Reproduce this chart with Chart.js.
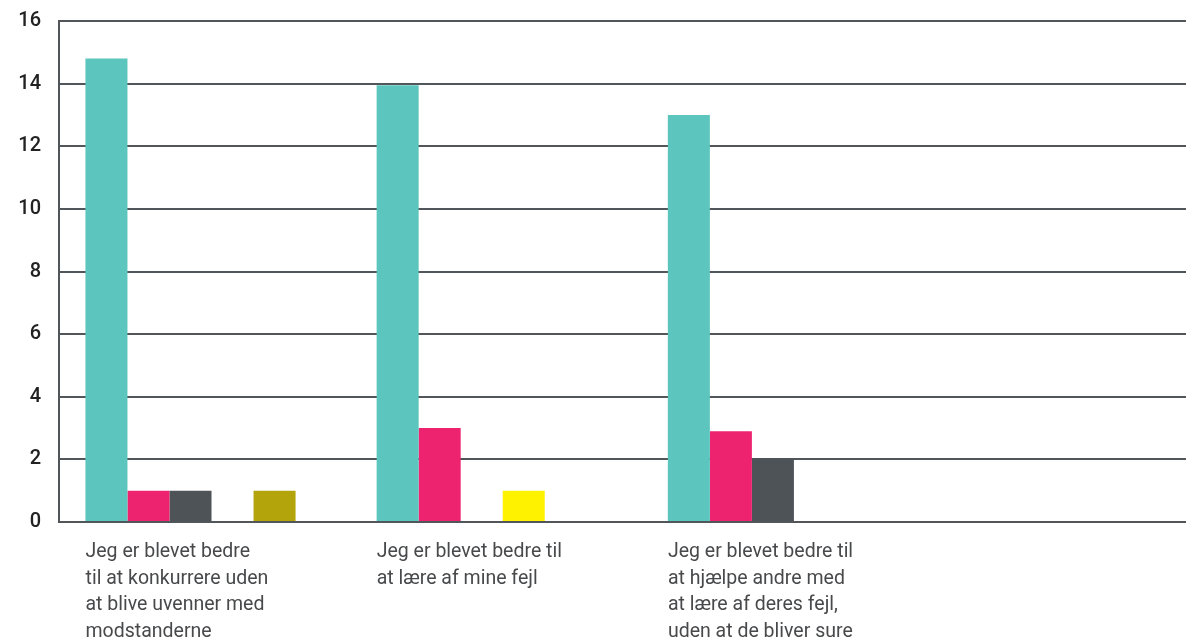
<!DOCTYPE html>
<html>
<head>
<meta charset="utf-8">
<script src="https://cdn.jsdelivr.net/npm/chart.js@4.4.0/dist/chart.umd.min.js"></script>
<style>
  html, body { margin: 0; padding: 0; background: #ffffff; overflow: hidden; }
  #wrap { position: relative; width: 1186px; height: 639px; }
</style>
</head>
<body>
<div id="wrap"><canvas id="c" width="1186" height="639"></canvas></div>
<script>
// Categories (multi-line labels as in the reference)
const categories = [
  ["Jeg er blevet bedre", "til at konkurrere uden", "at blive uvenner med", "modstanderne"],
  ["Jeg er blevet bedre til", "at lære af mine fejl"],
  ["Jeg er blevet bedre til", "at hjælpe andre med", "at lære af deres fejl,", "uden at de bliver sure"]
];
const categoryPositions = [0, 1, 2];

// Series values
const seriesTeal   = [14.8, 13.95, 13.0];
const seriesPink   = [1, 3, 2.9];
const seriesGray   = [1, 0, 2];
const seriesYellow = [0, 1, 0];
const seriesOlive  = [1, 0, 0];

// Y tick labels
const yTicks = [0, 2, 4, 6, 8, 10, 12, 14, 16];

const colors = ['#5cc5bd', '#ee2370', '#4e5357', '#fff200', '#b3a40b'];
const seriesList = [seriesTeal, seriesPink, seriesGray, seriesYellow, seriesOlive];

const toPoints = arr => arr.map((v, i) => ({ x: categoryPositions[i], y: v }));

const datasets = seriesList.map((s, k) => ({
  data: toPoints(s),
  backgroundColor: colors[k],
  borderWidth: 0,
  barPercentage: 1.0,
  categoryPercentage: 0.7216
}));

const GRID = '#50565a';

new Chart(document.getElementById('c'), {
  type: 'bar',
  data: { datasets },
  options: {
    responsive: false,
    animation: false,
    devicePixelRatio: 1,
    layout: { padding: { top: 21, right: 0, left: 0, bottom: 0 } },
    plugins: { legend: { display: false }, tooltip: { enabled: false } },
    scales: {
      x: {
        type: 'linear',
        min: -0.4516,
        max: 3.4186,
        offset: false,
        grid: { display: false, drawTicks: false },
        border: { display: false },
        afterBuildTicks: (scale) => { scale.ticks = categoryPositions.map(v => ({ value: v })); },
        afterFit: (scale) => { scale.height = 117; scale.paddingLeft = 0; scale.paddingRight = 0; },
        ticks: {
          autoSkip: false,
          maxRotation: 0,
          minRotation: 0,
          align: 'start',
          labelOffset: -105,
          padding: 17,
          color: '#48494b',
          font: { family: 'Roboto', size: 19.5, lineHeight: 1.36 },
          callback: (value) => {
            const i = categoryPositions.indexOf(value);
            return i >= 0 ? categories[i] : '';
          }
        }
      },
      y: {
        min: 0,
        max: 16,
        afterBuildTicks: (scale) => { scale.ticks = yTicks.map(v => ({ value: v })); },
        afterFit: (scale) => { scale.width = 59; scale.paddingTop = 0; scale.paddingBottom = 0; },
        grid: { color: GRID, lineWidth: 2, drawTicks: false },
        border: { display: true, color: GRID, width: 2 },
        ticks: {
          padding: 18,
          color: '#222222',
          font: { family: 'Roboto', size: 20, weight: '500' }
        }
      }
    }
  }
});
</script>
</body>
</html>
